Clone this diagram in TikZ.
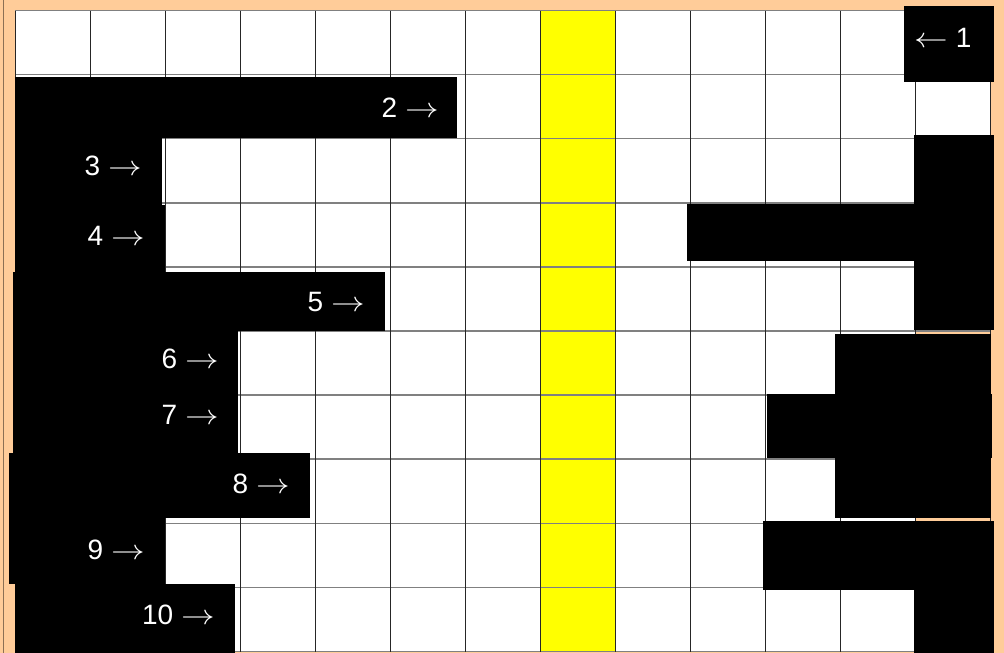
\RequirePackage{fix-cm}
\documentclass[tikz,border=0pt]{standalone}
\usepackage{graphicx}
\usepackage{fontspec}
\setmainfont{Liberation Sans}
\definecolor{peach}{HTML}{FFCC99}
\definecolor{gridgray}{HTML}{808080}
\definecolor{hilite}{HTML}{FFFF00}
\newcommand{\ra}{\hspace{8pt}\scalebox{1.2}[1]{$\rightarrow$}}
\newcommand{\la}{\scalebox{1.2}[1]{$\leftarrow$}\hspace{8pt}}
\begin{document}
\begin{tikzpicture}[x=1pt,y=-1pt,
  hline/.style={draw=gridgray,line width=1.5pt},
  vline/.style={draw=black!85,line width=1pt},
  redact/.style={fill=black},
  lbl/.style={text=white,inner sep=0pt,font=\fontsize{28}{30}\selectfont}]
\useasboundingbox (0,0) rectangle (1004,653);
% background
\fill[peach] (0,0) rectangle (1004,653);
\draw[draw=black!45!peach,line width=1pt] (3.5,0) -- (3.5,653);
% grid cells
\fill[white] (15,10.5) rectangle (990,651.5);
\fill[peach] (915,138.7) rectangle (990,651.5);
\fill[hilite] (540,10.5) rectangle (615,651.5);
\foreach \k in {0,...,10}{
  \draw[hline] (15,{10.5+64.1*\k}) -- (990,{10.5+64.1*\k});
}
\foreach \k in {0,...,13}{
  \draw[vline] ({15+75*\k},10.5) -- ({15+75*\k},651.5);
}
% black boxes (left)
\fill[redact] (15,77) rectangle (457,138);
\fill[redact] (15,138) rectangle (162,205);
\fill[redact] (15,205) rectangle (165,271.5);
\fill[redact] (13,271.5) rectangle (385,331);
\fill[redact] (13,331) rectangle (238,395);
\fill[redact] (13,395) rectangle (238,453);
\fill[redact] (8.5,453) rectangle (310,518);
\fill[redact] (8.5,518) rectangle (165,584);
\fill[redact] (15,584) rectangle (235,653);
% black boxes (right)
\fill[redact] (904,6) rectangle (994,82);
\fill[redact] (914,135) rectangle (994,329.5);
\fill[redact] (687,204) rectangle (914,261);
\fill[redact] (835,334) rectangle (991,517.5);
\fill[redact] (767,394) rectangle (992,458);
\fill[redact] (763,520.5) rectangle (994,589.5);
\fill[redact] (914,589.5) rectangle (993.5,653);
% labels
\node[lbl,anchor=base west] (l1) at (914,47) {\la 1};
\node[lbl,anchor=base east] (l2) at (439,117) {2\ra};
\node[lbl,anchor=base east] (l3) at (142,175) {3\ra};
\node[lbl,anchor=base east] (l4) at (145,245) {4\ra};
\node[lbl,anchor=base east] (l5) at (365,311.5) {5\ra};
\node[lbl,anchor=base east] (l6) at (219,368.5) {6\ra};
\node[lbl,anchor=base east] (l7) at (219,424.5) {7\ra};
\node[lbl,anchor=base east] (l8) at (290,493.5) {8\ra};
\node[lbl,anchor=base east] (l9) at (145,559) {9\ra};
\node[lbl,anchor=base east] (l10) at (215,624.5) {10\ra};
\end{tikzpicture}
\end{document}
